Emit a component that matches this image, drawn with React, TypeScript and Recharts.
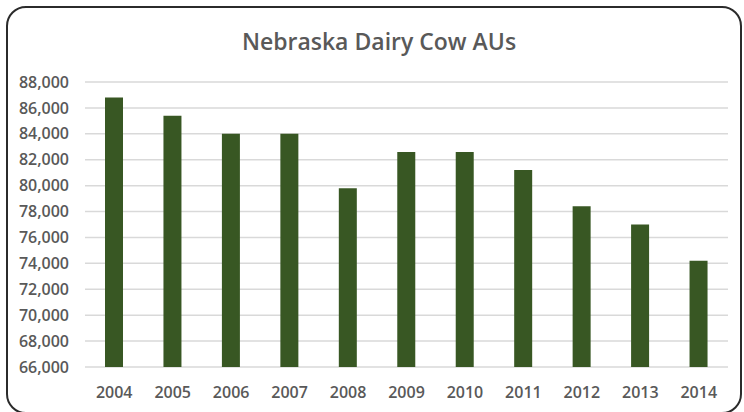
import React from 'react';
import { Bar, BarChart, CartesianGrid, XAxis, YAxis } from 'recharts';

const years = ['2004', '2005', '2006', '2007', '2008', '2009', '2010', '2011', '2012', '2013', '2014'];
const cowAUs = [86800, 85400, 84000, 84000, 79800, 82600, 82600, 81200, 78400, 77000, 74200];
const yTicks = [66000, 68000, 70000, 72000, 74000, 76000, 78000, 80000, 82000, 84000, 86000, 88000];

const data = years.map((year, i) => ({ year, value: cowAUs[i] }));

const fmt = (v: number) => v.toLocaleString('en-US');

export default function App() {
  return (
    <div
      style={{
        position: 'absolute',
        left: 0,
        top: 0,
        width: 744,
        height: 412,
        background: '#fff',
        fontFamily: '"Open Sans", sans-serif',
      }}
    >
      <div
        style={{
          position: 'absolute',
          left: 6,
          top: 6,
          width: 732,
          height: 404,
          border: '2px solid #2b2b2b',
          borderRadius: 20,
        }}
      />
      <div
        style={{
          position: 'absolute',
          left: 0,
          top: 23,
          width: 758,
          textAlign: 'center',
          fontSize: 23,
          fontWeight: 600,
          color: '#595959',
          lineHeight: '36px',
        }}
      >
        Nebraska Dairy Cow AUs
      </div>
      <BarChart
        width={744}
        height={412}
        data={data}
        margin={{ top: 82, right: 16, bottom: 15, left: 0 }}
        style={{ position: 'absolute', left: 0, top: 0 }}
      >
        <CartesianGrid vertical={false} stroke="#d9d9d9" strokeWidth={1.5} />
        <XAxis
          dataKey="year"
          axisLine={false}
          tickLine={false}
          height={30}
          tickMargin={14}
          tick={{ fontSize: 16, fill: '#595959', fontWeight: 600 }}
        />
        <YAxis
          domain={[66000, 88000]}
          ticks={yTicks}
          interval={0}
          width={85}
          axisLine={false}
          tickLine={false}
          tickMargin={10}
          tickFormatter={fmt}
          tick={{ fontSize: 16, fill: '#595959', fontWeight: 600 }}
        />
        <Bar dataKey="value" fill="#385723" barSize={18} isAnimationActive={false} />
      </BarChart>
    </div>
  );
}
